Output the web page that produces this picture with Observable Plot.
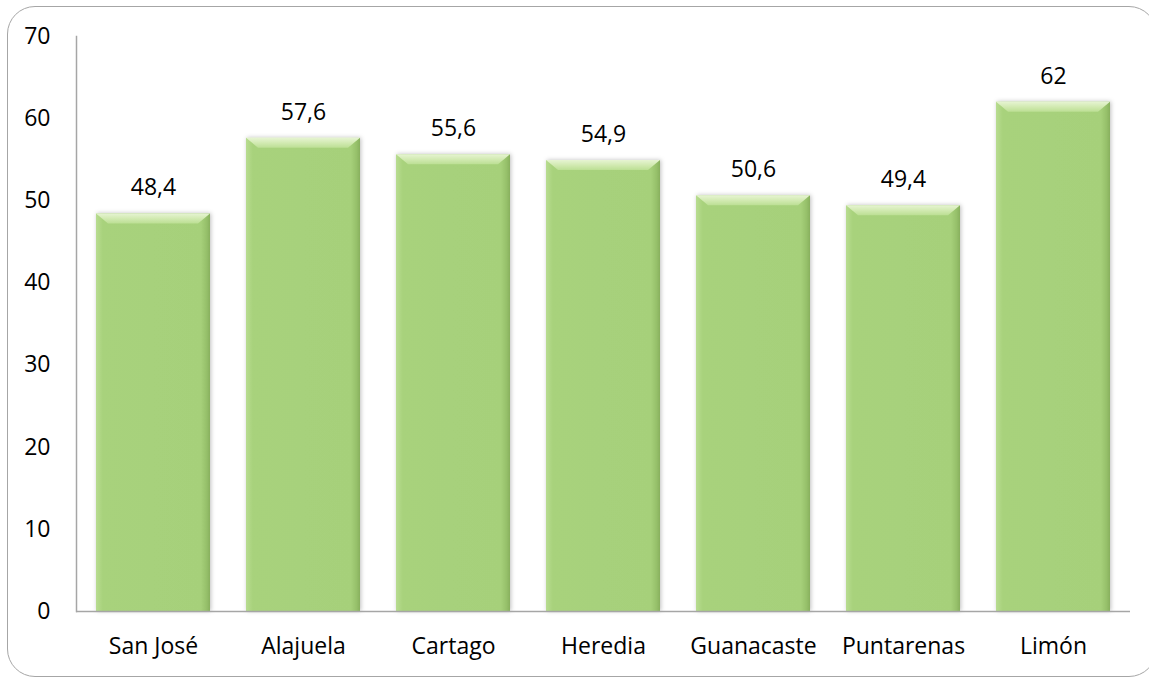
<!DOCTYPE html>
<html><head><meta charset="utf-8">
<script src="https://cdn.jsdelivr.net/npm/d3@7"></script>
<script src="https://cdn.jsdelivr.net/npm/@observablehq/plot@0.6"></script>
<style>
html,body{margin:0;padding:0;background:#fff;}
#wrap{position:relative;width:1149px;height:677px;overflow:hidden;}
#border{position:absolute;left:7px;top:6px;width:1150px;height:671px;border:1.5px solid #a6a6a6;border-radius:28px;box-sizing:border-box;}
#chart{position:absolute;left:0;top:0;}
</style></head><body>
<div id="wrap"><div id="border"></div><div id="chart"></div></div>
<script>
const provinces = ["San José", "Alajuela", "Cartago", "Heredia", "Guanacaste", "Puntarenas", "Limón"];
const values = [48.4, 57.6, 55.6, 54.9, 50.6, 49.4, 62];
const valueLabels = ["48,4", "57,6", "55,6", "54,9", "50,6", "49,4", "62"];
const yTicks = [0, 10, 20, 30, 40, 50, 60, 70];

const data = provinces.map((p, i) => ({province: p, value: values[i], label: valueLabels[i]}));

const chart = Plot.plot({
  width: 1149, height: 677,
  marginLeft: 76, marginRight: 19, marginTop: 36, marginBottom: 66,
  style: {fontFamily: "'Open Sans', sans-serif", fontSize: "23px", color: "#000", background: "transparent", overflow: "visible"},
  x: {domain: provinces, paddingInner: 0.237, paddingOuter: 0.117, label: null},
  y: {domain: [0, 70], label: null},
  marks: [
    Plot.axisY({ticks: yTicks, tickSize: 0, tickPadding: 26, label: null, fill: "#000"}),
    Plot.axisX({tickSize: 0, tickPadding: 26, label: null, fill: "#000"}),
    Plot.barY(data, {x: "province", y: "value", fill: "#a6d07a"}),
    Plot.text(data, {x: "province", y: "value", text: "label", dy: -26, fill: "#000"}),
    Plot.frame({anchor: "left", stroke: "#a6a6a6", strokeWidth: 1.5}),
    Plot.ruleY([0], {stroke: "#a6a6a6", strokeWidth: 1.5})
  ]
});
document.getElementById("chart").appendChild(chart);

// decorate bars with bevel / gradient effect
const NS = "http://www.w3.org/2000/svg";
const svg = chart.tagName.toLowerCase() === "svg" ? chart : chart.querySelector("svg");
const defs = document.createElementNS(NS, "defs");
defs.innerHTML = `
  <linearGradient id="barGrad" x1="0" x2="1" y1="0" y2="0">
    <stop offset="0" stop-color="#b8dc90"/>
    <stop offset="0.06" stop-color="#a8d27c"/>
    <stop offset="0.92" stop-color="#a6d07a"/>
    <stop offset="0.97" stop-color="#96c06a"/>
    <stop offset="1" stop-color="#88b05e"/>
  </linearGradient>
  <linearGradient id="bevelGrad" x1="0" x2="0" y1="0" y2="1">
    <stop offset="0" stop-color="#e6f4d2"/>
    <stop offset="0.5" stop-color="#d2eab2"/>
    <stop offset="1" stop-color="#bcdf94"/>
  </linearGradient>
  <filter id="shadow" x="-10%" y="-10%" width="120%" height="120%">
    <feDropShadow dx="1" dy="0" stdDeviation="2" flood-color="#000" flood-opacity="0.25"/>
  </filter>`;
svg.insertBefore(defs, svg.firstChild);
const barGroup = svg.querySelector('g[aria-label="bar"]');
barGroup.setAttribute("filter", "url(#shadow)");
barGroup.querySelectorAll("rect").forEach(r => {
  r.setAttribute("fill", "url(#barGrad)");
  const x = +r.getAttribute("x"), y = +r.getAttribute("y"), w = +r.getAttribute("width");
  const b = 12, d = 10;
  const poly = document.createElementNS(NS, "polygon");
  poly.setAttribute("points", `${x},${y} ${x + w},${y} ${x + w - b},${y + d} ${x + b},${y + d}`);
  poly.setAttribute("fill", "url(#bevelGrad)");
  barGroup.appendChild(poly);
});
</script>
</body></html>
